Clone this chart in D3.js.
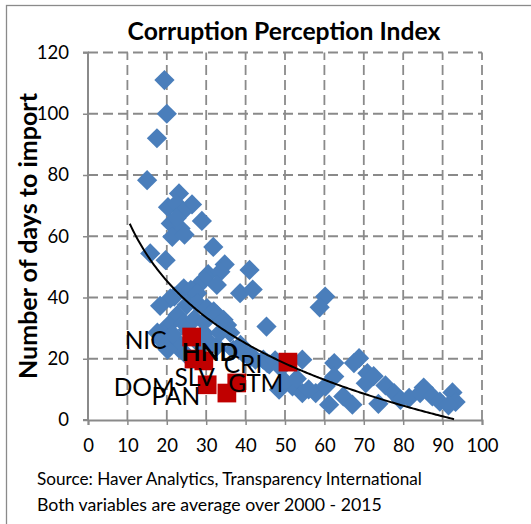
<!DOCTYPE html>
<html><head><meta charset="utf-8">
<script src="https://cdn.jsdelivr.net/npm/d3@7"></script>
<style>body{margin:0;background:#fff}svg{display:block}</style>
</head><body>
<svg id="c" width="531" height="524"></svg>
<script>
// ---- data ----
const titleText = "Corruption Perception Index";
const yTitle = "Number of days to import";
const sourceLines = ["Source: Haver Analytics, Transparency International", "Both variables are average over 2000 - 2015"];
const xTicks = [0,10,20,30,40,50,60,70,80,90,100];
const yTicks = [0,20,40,60,80,100,120];
// blue series: [CPI, days to import]
const cpi = [19.4,20,17.5,15,23.1,26.4,20.3,22.4,24,28.9,21,23.5,22.5,21.4,24.5,31.8,15.8,19.7,34.7,41,
 30.5,33.6,29.4,32.7,38.6,41.8,27.7,24.3,26.1,27.7,21.9,20.9,18.3,25.1,27.7,30.2,31.9,22.7,32.7,34.4,35.3,20.5,24.3,25.3,29.4,36.1,19.2,18.6,22.6,30.2,32.7,23,38.7,36.9,39.4,41.2,41.1,44.5,46,25,28.5,33.5,27,29.5,
 45.3,60.2,58.8,42.5,45.5,47.5,54.4,48.5,51.9,54.4,57.8,62.5,62.5,60.3,61.2,64.8,67.1,68.8,67.5,70.9,70.5,73.7,72.5,75.5,77.7,79.3,81.5,84.3,85.2,87.4,89.3,92.5,93.3,91.5,56,50,53,49,
 17.6,20.2,21.5];
const days = [111,100,92,78.3,74,70.4,69.5,70.6,68,65,64.2,62.5,66,59.8,60.5,56.5,54.4,52.2,50.8,49,
 47.6,48.4,45.8,44.1,41.4,42.6,43.6,43,42.5,41.4,40.3,39.7,37.3,37.6,38.2,36.5,35.5,34.3,34.3,32.7,31,31,31.6,29.5,28.4,28.5,27.8,26.2,25.6,26.2,24,23.5,24.5,22.9,21.8,21.2,20.3,19.7,18.2,21.2,24.5,28.5,33,32,
 30.5,40.3,36.8,19.7,18.6,19.5,19.7,9.9,11,8.8,8.8,18.6,14.2,11,5,7.7,5,20.2,18.6,15.3,12,5.3,14.3,11.3,8.8,6.6,7.2,8.8,10.6,7.7,6,9,5.9,4.8,10,12.5,13.5,17,
 28.5,23,28];
// highlighted (red) series
const caCountries = ["NIC","HND","GTM","DOM","PAN","SLV","CRI"];
const caCpi  = [26.3,26.9,29.4,30.25,35.25,37.75,50.75];
const caDays = [27.1,19.9,19.3,11.5,8.8,12.1,18.9];
// logarithmic trend: days = a + b*ln(cpi)
const trendA = 133.5, trendB = -29.4, trendFrom = 10.6, trendTo = 92.9;

// ---- drawing ----
const svg = d3.select("#c");
const FONT = "Lato, 'Open Sans', sans-serif";
const x = d3.scaleLinear().domain([0,100]).range([88,482]);
const y = d3.scaleLinear().domain([0,120]).range([420,52.5]);

function fit(sel, target){
  const w = sel.node().getComputedTextLength();
  const fs = parseFloat(sel.attr("font-size"));
  sel.attr("font-size", fs*target/w);
  return fs*target/w;
}

// outer frame
svg.append("rect").attr("x",6.5).attr("y",5.5).attr("width",600).attr("height",600)
  .attr("fill","none").attr("stroke","#8a8a8a").attr("stroke-width",1.3);

// grid
const grid = svg.append("g").attr("stroke","#8a8a8a").attr("stroke-width",1.8).attr("stroke-dasharray","10,5");
grid.selectAll(".vx").data(xTicks.filter(d=>d>0)).join("line")
  .attr("x1",d=>x(d)).attr("x2",d=>x(d)).attr("y1",y(0)).attr("y2",y(120));
grid.selectAll(".hy").data(yTicks.filter(d=>d>0)).join("line")
  .attr("y1",d=>y(d)).attr("y2",d=>y(d)).attr("x1",x(0)).attr("x2",x(100));

// axes
const yAxis = d3.axisLeft(y).tickValues(yTicks).tickSize(5).tickPadding(14);
const xAxis = d3.axisBottom(x).tickValues(xTicks).tickSize(5).tickPadding(14);
const gy = svg.append("g").attr("transform",`translate(${x(0)},0)`).call(yAxis);
const gx = svg.append("g").attr("transform",`translate(0,${y(0)})`).call(xAxis);
[gy,gx].forEach(g=>{
  g.select(".domain").attr("stroke","#8a8a8a").attr("stroke-width",2);
  g.selectAll(".tick line").attr("stroke","#8a8a8a").attr("stroke-width",1.5);
  g.selectAll("text").attr("font-family",FONT).attr("font-size",18.5).attr("fill","#000");
});
gy.select(".domain").attr("d",`M-5,${y(120)}H0V${y(0)}H-5`);

// blue diamonds
const pts = cpi.map((c,i)=>({c, d:days[i]}));
const diamond = d3.symbol().type(d3.symbolSquare).size(205);
svg.append("g").selectAll("path").data(pts).join("path")
  .attr("d",diamond)
  .attr("transform",d=>`translate(${x(d.c)},${y(d.d)}) rotate(45)`)
  .attr("fill","#4A7EBB");

// red squares
const ca = caCountries.map((n,i)=>({n, c:caCpi[i], d:caDays[i]}));
const square = d3.symbol().type(d3.symbolSquare).size(350);
svg.append("g").selectAll("path").data(ca).join("path")
  .attr("d",square)
  .attr("transform",d=>`translate(${x(d.c)},${y(d.d)})`)
  .attr("fill","#C00000");

// trend line
const tx = d3.range(0,201).map(i=>trendFrom+(trendTo-trendFrom)*i/200);
svg.append("path").datum(tx)
  .attr("d",d3.line().x(v=>x(v)).y(v=>y(Math.max(0,trendA+trendB*Math.log(v)))))
  .attr("fill","none").attr("stroke","#000").attr("stroke-width",2);

// data labels (manually offset like the original)
const labelOffset = {NIC:[-46,2],HND:[16,-8],GTM:[52,22],DOM:[-63,2],PAN:[-51,2],SLV:[-42,-6],CRI:[-45,1]};
const probe = svg.append("text").text("NIC").attr("font-family",FONT).attr("font-size",24);
const labelSize = fit(probe, 42);
probe.remove();
ca.forEach(d=>{
  const o = labelOffset[d.n];
  svg.append("text").text(d.n)
    .attr("x",x(d.c)+o[0]).attr("y",y(d.d)+o[1])
    .attr("text-anchor","middle").attr("dominant-baseline","central")
    .attr("font-family",FONT).attr("font-size",labelSize)
    .attr("font-weight",d.n==="HND"?"bold":"normal").attr("fill","#000");
});

// title
fit(svg.append("text").text(titleText).attr("x",284).attr("y",40).attr("text-anchor","middle")
  .attr("font-family",FONT).attr("font-weight","bold").attr("font-size",22), 313);
// y title
fit(svg.append("text").text(yTitle).attr("transform","translate(37,236) rotate(-90)").attr("text-anchor","middle")
  .attr("font-family",FONT).attr("font-weight","bold").attr("font-size",22), 286);
// source
sourceLines.forEach((s,i)=>{
  const t = svg.append("text").text(s).attr("x",37).attr("y",485+i*26)
    .attr("font-family",FONT).attr("font-size",16).attr("fill","#000");
  fit(t, i===0?385:345);
});
</script>
</body></html>
